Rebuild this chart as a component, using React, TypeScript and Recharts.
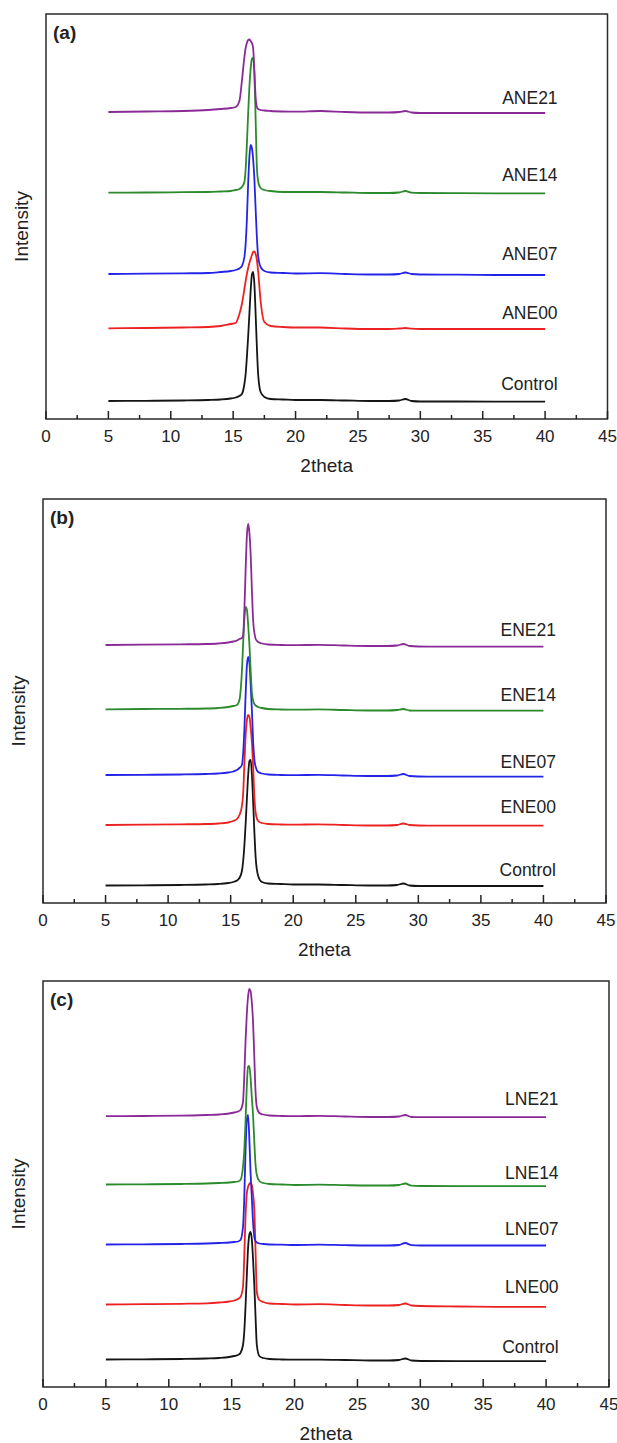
import React from 'react';
import { LineChart, Line, XAxis, YAxis, ReferenceArea } from 'recharts';

// 2theta sampling (shared by every pattern), denser around the main peak
const twoTheta = [5, 8, 11, 13, 14, 14.8, 15.2, 15.5, 15.7, 15.9, 16.0, 16.1, 16.2, 16.3, 16.4, 16.5, 16.6, 16.7, 16.8, 16.9, 17.0, 17.2, 17.5, 18, 19, 20, 22, 24, 26, 27.5, 28.3, 28.8, 29.3, 30, 33, 36, 40];

// panel (a) - stacked intensities (a.u.)
const controlA = [18, 18.2, 18.5, 19, 19.5, 20.5, 21.5, 23, 25, 35, 45, 62, 82, 105, 128, 144, 147, 135, 105, 72, 45, 27, 22, 20, 19.5, 19, 19, 18.5, 18, 18, 18.5, 20, 18, 17.5, 17.5, 17.4, 17.3];
const ane00 = [90.7, 91, 91.5, 92, 93, 95, 96, 105, 115, 130, 138, 145, 151, 156, 160, 164, 167, 167.5, 165, 159, 148, 118, 97, 93, 92, 91.5, 91.5, 90.5, 90, 90, 90.5, 91, 90.3, 90, 90, 90, 90];
const ane07 = [145, 145.3, 145.7, 146, 147, 148, 149, 150.5, 153, 162, 175, 200, 235, 262, 274, 271, 260, 240, 210, 182, 163, 152, 148, 146.5, 146, 145.5, 145.8, 145, 144.5, 144.5, 145, 146.5, 145, 144.5, 144.3, 144, 144];
const ane14 = [226.3, 226.5, 226.8, 227, 227.5, 228, 229, 230, 232, 237, 250, 275, 305, 332, 350, 360, 361, 345, 300, 252, 238, 231, 229, 228, 227, 227, 227, 226.5, 226, 226, 226.5, 228, 226.3, 226, 225.8, 225.7, 225.7];
const ane21 = [307, 307.5, 308, 309, 310, 311, 312, 318, 338, 362, 371, 376, 379, 379.5, 378, 376, 371, 348, 322, 312, 310, 309, 308.5, 308, 307.5, 307.3, 308, 307, 306.5, 306.5, 307, 308, 306.5, 306, 306, 306, 306];

// panel (b)
const controlB = [17.5, 17.7, 18, 18.5, 19, 20, 21, 22.5, 25, 32, 42, 58, 80, 105, 128, 142, 143, 128, 100, 70, 45, 27, 21, 19.5, 19, 18.5, 18.5, 18, 17.5, 17.5, 18, 19.5, 17.5, 17, 17, 17, 17];
const ene00 = [78, 78.3, 78.7, 79, 79.5, 80.5, 82, 84, 88, 97, 110, 140, 168, 183, 188, 186, 175, 160, 135, 105, 90, 82, 80, 79, 78.5, 78.3, 78.7, 78, 77.5, 77.5, 78, 79.5, 78, 77.5, 77.3, 77.3, 77.3];
const ene07 = [128, 128.2, 128.5, 129, 129.5, 130.5, 131.5, 133, 135, 138, 150, 175, 210, 238, 246, 240, 218, 192, 160, 143, 136, 131, 129.5, 128.5, 128, 127.8, 128.2, 127.5, 127, 127, 127.5, 129, 127, 126.5, 126.3, 126.3, 126.3];
const ene14 = [193.7, 194, 194.2, 194.5, 195, 196, 197, 198, 203, 232, 260, 285, 296, 293, 278, 258, 232, 210, 202, 199, 197.5, 196, 195, 194, 193.5, 193.3, 193.6, 193, 192.5, 192.5, 193, 194, 192.5, 192.3, 192.3, 192.3, 192.3];
const ene21 = [258, 258.3, 258.7, 259, 259.5, 260.5, 261.5, 262.5, 264, 265, 268, 295, 335, 368, 379, 370, 348, 312, 282, 270, 264, 261, 259.5, 258.5, 258, 257.8, 258.2, 257.5, 257, 257, 257.5, 259, 257, 256.5, 256.3, 256.3, 256.3];

// panel (c)
const controlC = [27.5, 27.7, 28, 28.5, 29, 30, 31, 32, 34, 42, 55, 80, 110, 138, 152, 155, 148, 128, 102, 70, 42, 31, 29, 28, 27.5, 27.3, 27.4, 27, 26.5, 26.5, 27, 28.5, 26.5, 26, 25.8, 25.8, 25.8];
const lne00 = [82.5, 82.8, 83.2, 83.7, 84.5, 85.5, 86.5, 88, 90, 100, 130, 170, 193, 200, 203, 204, 202, 193, 178, 135, 95, 87, 85, 83.5, 83, 82.5, 82.8, 82, 81.5, 81.5, 82, 83.5, 81.5, 81, 80.5, 80.2, 80.2];
const lne07 = [142.5, 142.7, 143, 143.5, 144, 144.5, 145, 145.5, 147, 160, 188, 235, 266, 272, 250, 215, 190, 165, 150, 146, 144.5, 143.5, 143, 142.5, 142.3, 142, 142.3, 141.8, 141.5, 141.5, 142, 144, 141.8, 141.5, 141.5, 141.5, 141.5];
const lne14 = [202.5, 202.7, 203, 203.5, 204, 204.5, 205, 205.5, 207, 220, 236, 265, 300, 320, 321, 310, 290, 272, 245, 222, 212, 206, 204, 203, 202.5, 202, 202.3, 201.8, 201.5, 201.5, 202, 203.5, 201.3, 201, 200.8, 200.8, 200.8];
const lne21 = [270.8, 271, 271.3, 272, 272.5, 273.5, 274.5, 275.5, 277, 285, 310, 345, 372, 390, 398, 396, 385, 365, 330, 295, 280, 274, 272.5, 271.5, 271, 270.8, 271.2, 270.5, 270, 270, 270.5, 272, 270, 269.8, 269.8, 269.8, 269.8];

const xTicks = [0, 2.5, 5, 7.5, 10, 12.5, 15, 17.5, 20, 22.5, 25, 27.5, 30, 32.5, 35, 37.5, 40, 42.5, 45];

const colors = ['#151515', '#ec2222', '#2424e8', '#2b8a2b', '#8a2a96'];
const FONT = "'Liberation Sans', Arial, Helvetica, sans-serif";
const INK = '#222';

const panels = [
  {
    tag: '(a)', names: ['Control', 'ANE00', 'ANE07', 'ANE14', 'ANE21'],
    series: [controlA, ane00, ane07, ane14, ane21], lift: [18.4, 16.7, 21, 19, 15.7],
    top: 14, left: 46, right: 607.5, height: 405,
  },
  {
    tag: '(b)', names: ['Control', 'ENE00', 'ENE07', 'ENE14', 'ENE21'],
    series: [controlB, ene00, ene07, ene14, ene21], lift: [16.7, 19, 15, 15.7, 16.7],
    top: 499, left: 43, right: 606, height: 404,
  },
  {
    tag: '(c)', names: ['Control', 'LNE00', 'LNE07', 'LNE14', 'LNE21'],
    series: [controlC, lne00, lne07, lne14, lne21], lift: [15, 20.6, 16.7, 14, 18.4],
    top: 981, left: 43, right: 609, height: 406,
  },
];

const XTick = (props: any) => {
  const { x, y, payload } = props;
  const v = payload.value;
  const major = v % 5 === 0;
  return (
    <g>
      <line x1={x} x2={x} y1={y} y2={y - (major ? 8 : 4)} stroke={INK} strokeWidth={1.5} />
      {major && (
        <text x={x} y={y + 23} textAnchor="middle" fontSize={17} fill={INK} fontFamily={FONT}>
          {v}
        </text>
      )}
    </g>
  );
};

const Panel = ({ p }: { p: (typeof panels)[number] }) => {
  const rows = twoTheta.map((x, i) => {
    const r: any = { x };
    p.series.forEach((s, k) => { r['s' + k] = s[i]; });
    return r;
  });
  const last = twoTheta.length - 1;

  return (
    <div style={{ position: 'absolute', left: 0, top: p.top - 10 }}>
      <LineChart width={617} height={p.height + 10 + 56} data={rows}
        margin={{ top: 10, right: 617 - p.right, bottom: 0, left: 0 }}>
        <XAxis dataKey="x" type="number" domain={[0, 45]} ticks={xTicks} interval={0}
          height={56} axisLine={false} tickLine={false} tickSize={0} tickMargin={0}
          tick={XTick}
          label={(lp: any) => {
            const vb = lp.viewBox || {};
            return (
              <text x={vb.x + vb.width / 2} y={vb.y + 53} textAnchor="middle"
                fontSize={19} fill={INK} fontFamily={FONT}>2theta</text>
            );
          }} />
        <YAxis type="number" domain={[0, p.height]} width={p.left} tick={false}
          axisLine={false} tickLine={false}
          label={(lp: any) => {
            const vb = lp.viewBox || {};
            const cx = vb.x + vb.width - 18.5;
            const cy = vb.y + vb.height / 2 + 10;
            return (
              <text x={cx} y={cy} transform={`rotate(-90 ${cx} ${cy})`} textAnchor="middle"
                fontSize={19} fill={INK} fontFamily={FONT}>Intensity</text>
            );
          }} />
        <ReferenceArea x1={0} x2={45} y1={0} y2={p.height} fill="none" stroke="#2a2a2a"
          strokeWidth={1.5} fillOpacity={0}
          label={(lp: any) => {
            const vb = lp.viewBox || {};
            return (
              <text x={vb.x + 7} y={vb.y + 25} fontSize={19} fontWeight="bold" fill={INK}
                fontFamily={FONT}>{p.tag}</text>
            );
          }} />
        {p.series.map((_, k) => (
          <Line key={k} dataKey={'s' + k} type="monotone" stroke={colors[k]} strokeWidth={1.8}
            isAnimationActive={false} activeDot={false}
            dot={(dp: any) =>
              dp.index === last ? (
                <text key={'lbl' + k} x={dp.cx + 12.5} y={dp.cy - p.lift[k] + 6.3} textAnchor="end"
                  fontSize={17.5} fill={INK} fontFamily={FONT}>{p.names[k]}</text>
              ) : (
                <g key={'d' + k + '-' + dp.index} />
              )
            } />
        ))}
      </LineChart>
    </div>
  );
}

export default function App() {
  return (
    <div style={{ position: 'absolute', left: 0, top: 0, width: 617, height: 1443, overflow: 'hidden', background: '#fff' }}>
      {panels.map((p) => <Panel key={p.tag} p={p} />)}
    </div>
  );
}
